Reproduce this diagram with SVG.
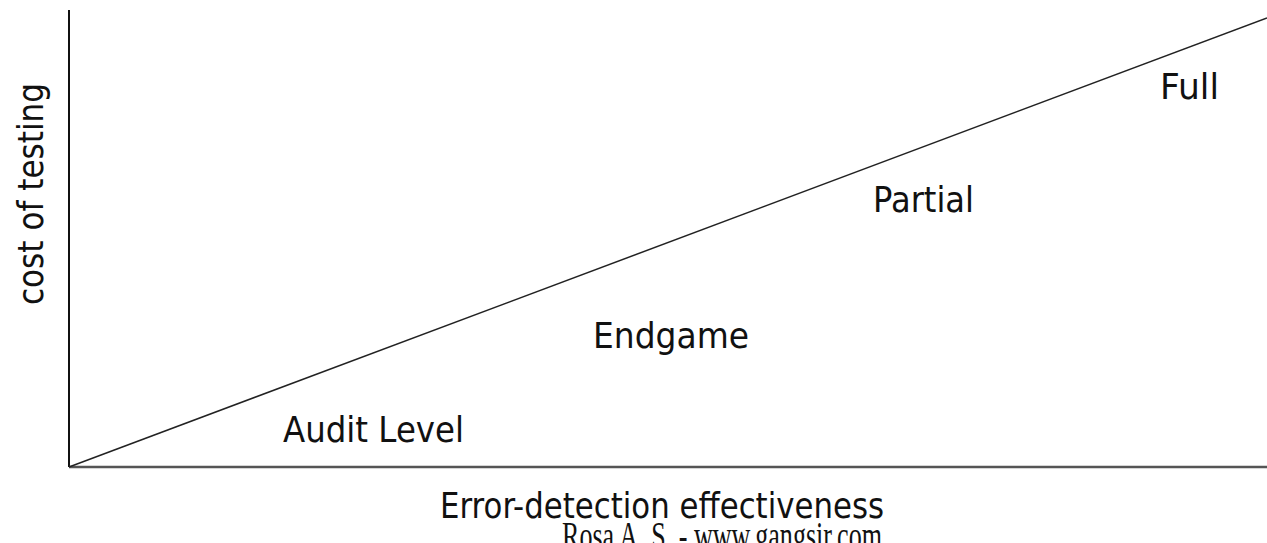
<svg xmlns="http://www.w3.org/2000/svg" width="1267" height="543" viewBox="0 0 1267 543">
<style>
.lbl{font-family:"DejaVu Sans","Liberation Sans",sans-serif;font-size:36px;fill:#111;}
.foot{font-family:"Liberation Serif",serif;font-size:26px;fill:#111;}
</style>
<rect width="1267" height="543" fill="#fff"/>
<g id="connectors">
<line id="y-axis" x1="69" y1="10" x2="69" y2="467" stroke="#111" stroke-width="2"/>
<line id="x-axis" x1="69" y1="467" x2="1267" y2="467" stroke="#555" stroke-width="2.5"/>
<line id="cost-line" x1="69" y1="467" x2="1267" y2="18" stroke="#222" stroke-width="1.5"/>
</g>
<g id="axis-y-label"><text class="lbl" transform="translate(43,305) rotate(-90)" textLength="222" lengthAdjust="spacingAndGlyphs">cost of testing</text></g>
<g id="axis-x-label"><text class="lbl" x="440" y="518" textLength="444" lengthAdjust="spacingAndGlyphs">Error-detection effectiveness</text></g>
<g id="audit"><text class="lbl" x="283" y="442" textLength="181" lengthAdjust="spacingAndGlyphs">Audit Level</text></g>
<g id="endgame"><text class="lbl" x="593" y="348" textLength="156" lengthAdjust="spacingAndGlyphs">Endgame</text></g>
<g id="partial"><text class="lbl" x="873" y="212" textLength="101" lengthAdjust="spacingAndGlyphs">Partial</text></g>
<g id="full"><text class="lbl" x="1160" y="99" textLength="59" lengthAdjust="spacingAndGlyphs">Full</text></g>
<g id="footer"><text class="foot" transform="translate(562,549) scale(1,1.5)" textLength="320" lengthAdjust="spacingAndGlyphs">Rosa A. S. - www.gangsir.com</text></g>
</svg>
